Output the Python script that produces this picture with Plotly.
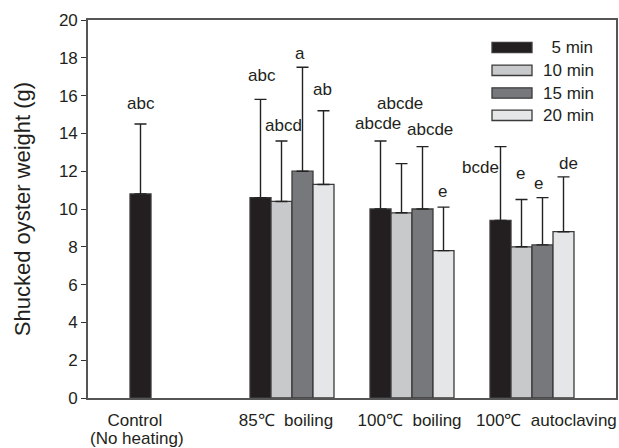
import plotly.graph_objects as go

# ---- data ----
groups = ["Control", "85℃  boiling", "100℃  boiling", "100℃  autoclaving"]
group_notes = ["(No heating)", None, None, None]
series = ["5 min", "10 min", "15 min", "20 min"]
mean_5 = [10.8, 10.6, 10.0, 9.4]
mean_10 = [None, 10.4, 9.8, 8.0]
mean_15 = [None, 12.0, 10.0, 8.1]
mean_20 = [None, 11.3, 7.8, 8.8]
top_5 = [14.5, 15.8, 13.6, 13.3]
top_10 = [None, 13.6, 12.4, 10.5]
top_15 = [None, 17.5, 13.3, 10.6]
top_20 = [None, 15.2, 10.1, 11.7]
letters_5 = ["abc", "abc", "abcde", "bcde"]
letters_10 = [None, "abcd", "abcde", "e"]
letters_15 = [None, "a", "abcde", "e"]
letters_20 = [None, "ab", "e", "de"]
y_ticks = list(range(0, 21, 2))

# ---- style ----
colors = ["#231f20", "#c8c9cb", "#77787b", "#e5e6e7"]
FONT = "Liberation Sans, Arial, sans-serif"
means = [mean_5, mean_10, mean_15, mean_20]
tops = [top_5, top_10, top_15, top_20]
letters = [letters_5, letters_10, letters_15, letters_20]
xpos = list(range(len(groups)))

fig = go.Figure()
for s, name in enumerate(series):
    plus = [(t - m) if (t is not None and m is not None) else None
            for t, m in zip(tops[s], means[s])]
    minus = [0 if p is not None else None for p in plus]
    fig.add_trace(go.Bar(
        x=xpos, y=means[s], name=name,
        marker=dict(color=colors[s], line=dict(color="#3a3a3a", width=1.3)),
        error_y=dict(type="data", array=plus, arrayminus=minus, symmetric=False,
                     color="#222222", thickness=1.4, width=6),
        showlegend=False,
    ))

# letter label placement (layout: x offset within group, y of text centre)
label_dx = [[-0.258, -0.25, -0.283, -0.433],
            [None, -0.075, -0.10, -0.092],
            [None, 0.067, 0.15, 0.05],
            [None, 0.258, 0.258, 0.308]]
label_y = [[15.56, 17.04, 14.5, 12.17],
           [None, 14.44, 15.6, 11.9],
           [None, 18.25, 14.23, 11.37],
           [None, 16.3, 10.95, 12.43]]
for s in range(len(series)):
    for g in range(len(groups)):
        txt = letters[s][g]
        if txt is None:
            continue
        fig.add_annotation(x=xpos[g] + label_dx[s][g], y=label_y[s][g], text=txt,
                           showarrow=False, xanchor="center", yanchor="middle",
                           font=dict(size=17, color="#231f20", family=FONT))

# custom legend (wide boxes)
L, T, B = 88, 20, 398
W, H = 528, 378
def px_x(p):
    return (p - L) / W
def px_y(p):
    return (B - p) / H
row_y = [47.5, 70.3, 93.0, 115.3]
for s, name in enumerate(series):
    fig.add_shape(type="rect", xref="paper", yref="paper",
                  x0=px_x(492), x1=px_x(532), y0=px_y(row_y[s] + 5.2), y1=px_y(row_y[s] - 5.2),
                  fillcolor=colors[s], line=dict(color="#3a3a3a", width=1.3))
    fig.add_annotation(xref="paper", yref="paper", x=px_x(541), y=px_y(row_y[s]),
                       text=("\u2002" + name) if s == 0 else name,
                       showarrow=False, xanchor="left", yanchor="middle",
                       font=dict(size=17, color="#231f20", family=FONT))

tick_pos = [-0.31, 0.95, 1.98, 3.12]
# second line of category labels
for g, note in enumerate(group_notes):
    if note:
        fig.add_annotation(x=tick_pos[g] + 0.02, xref="x", yref="paper", y=px_y(438.5),
                           text=note, showarrow=False, xanchor="center", yanchor="middle",
                           font=dict(size=17, color="#231f20", family=FONT))

fig.update_layout(
    width=619, height=448,
    margin=dict(l=L, r=619 - L - W, t=T, b=448 - B),
    paper_bgcolor="white", plot_bgcolor="white",
    barmode="group", bargap=0.3, bargroupgap=0,
    font=dict(family=FONT, size=17, color="#231f20"),
    xaxis=dict(range=[-0.7, 3.7], tickvals=tick_pos, ticktext=groups, automargin=False,
               showgrid=False, zeroline=False, showline=True, mirror=True,
               linecolor="#555555", linewidth=1.6, ticks="", ticklabelstandoff=6,
               tickfont=dict(size=17, family=FONT)),
    yaxis=dict(range=[0, 20], tickvals=y_ticks, showgrid=False, zeroline=False, automargin=False,
               showline=True, mirror=True, linecolor="#555555", linewidth=1.6,
               ticks="outside", ticklen=5, tickwidth=1.2, tickcolor="#333333",
               tickfont=dict(size=17, family=FONT),
               title=dict(text="Shucked oyster weight (g)", font=dict(size=22, family=FONT),
                          standoff=22)),
)
fig.write_html("out.html", config={"displayModeBar": False},
               post_script="document.body.style.margin='0';document.body.style.overflow='hidden';")
